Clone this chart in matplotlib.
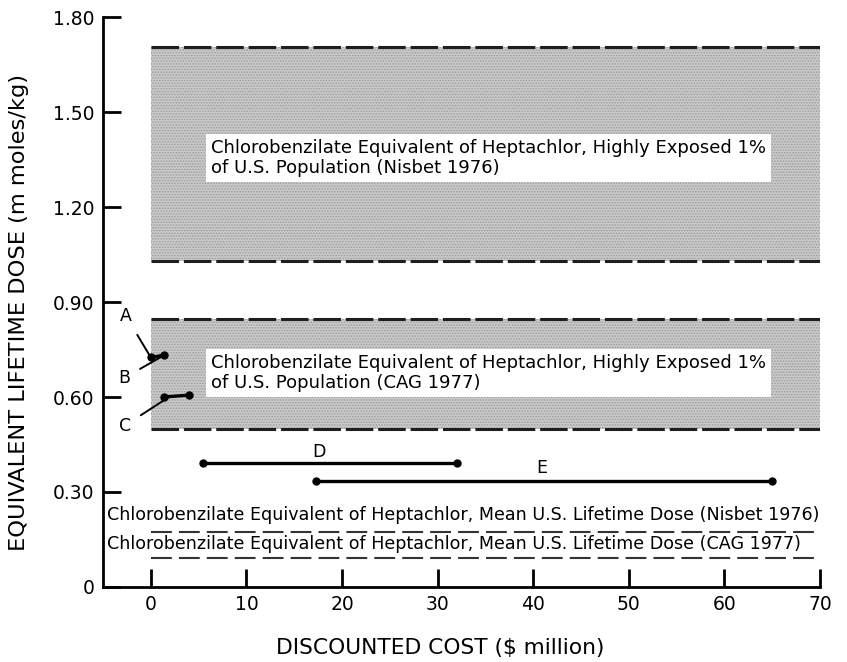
import matplotlib.pyplot as plt
import numpy as np

plt.rcParams['font.family'] = ['DejaVu Sans']
plt.rcParams['hatch.linewidth'] = 0.7
plt.rcParams['hatch.color'] = '#9a9a9a'

# ==========================================================
# Data
# ==========================================================

band_names = ["Nisbet 1976", "CAG 1977"]
band_low = [1.03, 0.50]
band_high = [1.705, 0.845]

mean_names = ["Nisbet 1976", "CAG 1977"]
mean_dose = [0.174, 0.092]

# option segments: x start, x end, y start, y end
seg_labels = ["A-B", "C", "D", "E"]
seg_x0 = [0.0, 1.4, 5.5, 17.3]
seg_x1 = [1.4, 4.0, 32.0, 65.0]
seg_y0 = [0.725, 0.60, 0.39, 0.335]
seg_y1 = [0.732, 0.606, 0.39, 0.335]

x_ticks = [0, 10, 20, 30, 40, 50, 60, 70]
y_ticks = [0, 0.30, 0.60, 0.90, 1.20, 1.50, 1.80]
y_tick_labels = ["0", "0.30", "0.60", "0.90", "1.20", "1.50", "1.80"]

band_text = [
    "Chlorobenzilate Equivalent of Heptachlor, Highly Exposed 1%\n"
    "of U.S. Population (Nisbet 1976)",
    "Chlorobenzilate Equivalent of Heptachlor, Highly Exposed 1%\n"
    "of U.S. Population (CAG 1977)",
]
mean_text = [
    "Chlorobenzilate Equivalent of Heptachlor, Mean U.S. Lifetime Dose (Nisbet 1976)",
    "Chlorobenzilate Equivalent of Heptachlor, Mean U.S. Lifetime Dose (CAG 1977)",
]

# ==========================================================
# Figure
# ==========================================================

fig = plt.figure(figsize=(8.47, 6.62), dpi=100)
ax = fig.add_axes([0.1216, 0.1133, 0.8466, 0.861])

ax.set_xlim(-5, 70)
ax.set_ylim(0, 1.80)

# shaded bands with dashed edges
for lo, hi in zip(band_low, band_high):
    ax.fill_between([0, 70], lo, hi, facecolor="#c9c9c9", edgecolor="none",
                    hatch="......", zorder=1)
    for yv in (lo, hi):
        ax.plot([0, 70], [yv, yv], color="#1e1e1e", lw=2.2,
                dashes=(9, 1.6), zorder=2)

# mean dose dashed lines
for yv in mean_dose:
    ax.plot([0, 70], [yv, yv], color="#333333", lw=1.5,
            dashes=(10, 3.4), zorder=2)

# band text boxes
for yc, txt in zip([1.355, 0.676], band_text):
    ax.text(6.3, yc, txt, fontsize=13, va="center", ha="left",
            linespacing=1.15,
            bbox=dict(facecolor="white", edgecolor="none", pad=3.5), zorder=3)

# mean dose labels
for yc, txt in zip([0.228, 0.137], mean_text):
    ax.text(-4.6, yc, txt, fontsize=12.6, va="center", ha="left")

# option segments
for x0, x1, y0, y1 in zip(seg_x0, seg_x1, seg_y0, seg_y1):
    ax.plot([x0, x1], [y0, y1], color="black", lw=2.4,
            marker="o", markersize=5, zorder=4)

# labels for the segments
ax.annotate("A", xy=(seg_x0[0], seg_y0[0]), xytext=(-2.6, 0.856),
            fontsize=12.5, ha="center", va="center",
            arrowprops=dict(arrowstyle="-", color="black", lw=1.4,
                            shrinkA=6, shrinkB=0), zorder=4)
ax.annotate("B", xy=(seg_x1[0], seg_y1[0]), xytext=(-2.8, 0.66),
            fontsize=12.5, ha="center", va="center",
            arrowprops=dict(arrowstyle="-", color="black", lw=1.4,
                            shrinkA=6, shrinkB=0), zorder=4)
ax.annotate("C", xy=(seg_x0[1] + 0.5, seg_y0[1]), xytext=(-2.7, 0.51),
            fontsize=12.5, ha="center", va="center",
            arrowprops=dict(arrowstyle="-", color="black", lw=1.4,
                            shrinkA=6, shrinkB=0), zorder=4)
ax.text(17.6, 0.426, "D", fontsize=12.5, ha="center", va="center")
ax.text(40.9, 0.376, "E", fontsize=12.5, ha="center", va="center")

# ==========================================================
# Axes styling
# ==========================================================

ax.spines["top"].set_visible(False)
ax.spines["right"].set_visible(False)
ax.spines["left"].set_linewidth(2)
ax.spines["bottom"].set_linewidth(2)

ax.set_xticks(x_ticks)
ax.set_yticks(y_ticks)
ax.set_yticklabels(y_tick_labels)
ax.tick_params(direction="in", length=13, width=2, labelsize=13.5, pad=6)

fig.text(440 / 847, 1 - 648 / 662, "DISCOUNTED COST ($ million)",
         fontsize=15.7, ha="center", va="center")
fig.text(19 / 847, 1 - 312 / 662, "EQUIVALENT LIFETIME DOSE (m moles/kg)",
         fontsize=16.2, ha="center", va="center", rotation=90)

fig.savefig("out.png", dpi=100)
